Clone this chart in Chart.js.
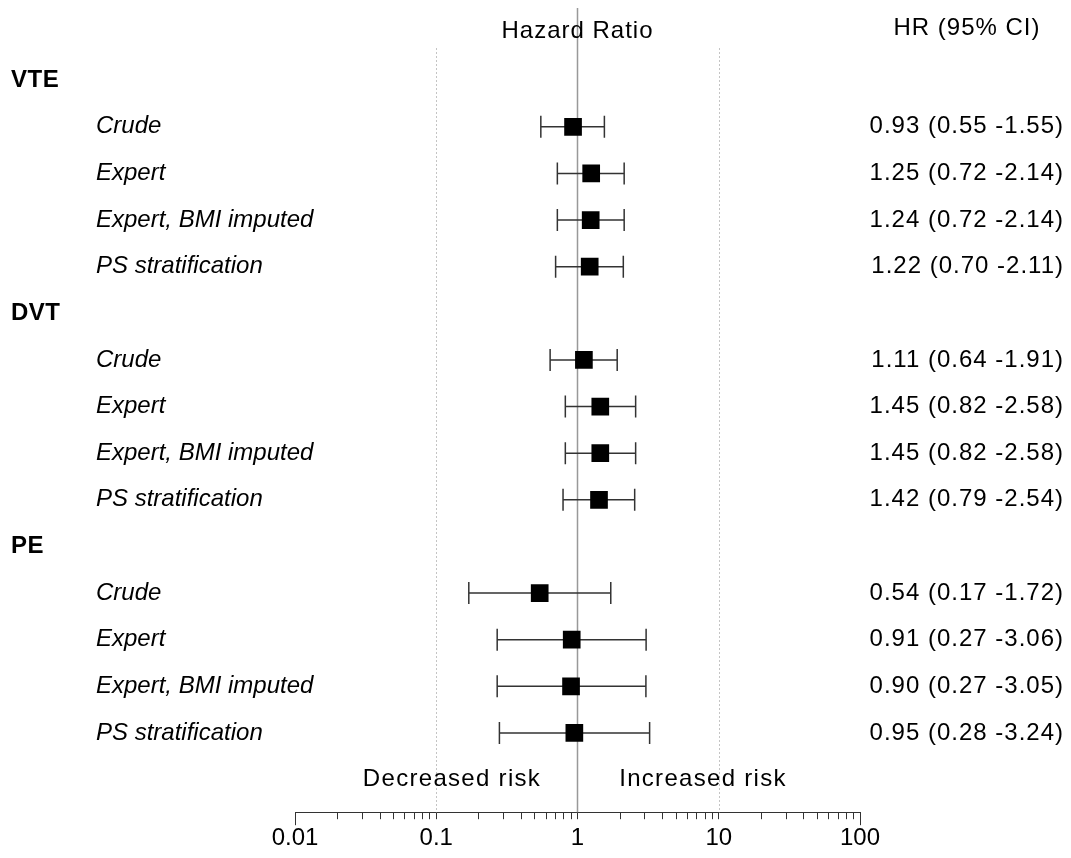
<!DOCTYPE html>
<html>
<head>
<meta charset="utf-8">
<script src="https://cdn.jsdelivr.net/npm/chart.js@4"></script>
<style>
  body { margin: 0; background: #fff; }
  #wrap { width: 1071px; height: 858px; }
</style>
</head>
<body>
<div id="wrap"><canvas id="forest" width="1071" height="858"></canvas></div>
<script>
var groups = ['VTE', 'DVT', 'PE'];
var models = ['Crude', 'Expert', 'Expert, BMI imputed', 'PS stratification'];
var hr = [0.93, 1.25, 1.24, 1.22, 1.11, 1.45, 1.45, 1.42, 0.54, 0.91, 0.90, 0.95];
var lo = [0.55, 0.72, 0.72, 0.70, 0.64, 0.82, 0.82, 0.79, 0.17, 0.27, 0.27, 0.28];
var hi = [1.55, 2.14, 2.14, 2.11, 1.91, 2.58, 2.58, 2.54, 1.72, 3.06, 3.05, 3.24];
var decadeTicks = [0.01, 0.1, 1, 10, 100];
var decadeLabels = ['0.01', '0.1', '1', '10', '100'];

var FONT = '"Liberation Sans", Arial, sans-serif';

// row index for each estimate: group header, then the 4 models
function rowOf(i) {
  var g = Math.floor(i / models.length);
  return g * (models.length + 1) + 1 + (i % models.length);
}

var points = hr.map(function (v, i) { return { x: v, y: rowOf(i) }; });

// minor ticks 2..9 per decade
var allTicks = [];
decadeTicks.forEach(function (d, k) {
  allTicks.push(d);
  if (k < decadeTicks.length - 1) {
    for (var m = 2; m <= 9; m++) allTicks.push(+(d * m).toPrecision(3));
  }
});

var forestPlugin = {
  id: 'forest',
  beforeDatasetsDraw: function (chart) {
    var ctx = chart.ctx, x = chart.scales.x, y = chart.scales.y;
    var bottom = chart.chartArea.bottom;
    ctx.save();
    // dotted lines at 0.1 and 10
    ctx.strokeStyle = '#c4c4c4';
    ctx.lineWidth = 1;
    ctx.setLineDash([2, 2]);
    [0.1, 10].forEach(function (v) {
      var px = Math.round(x.getPixelForValue(v)) + 0.5;
      ctx.beginPath(); ctx.moveTo(px, 48); ctx.lineTo(px, bottom); ctx.stroke();
    });
    ctx.setLineDash([]);
    // line of no effect
    ctx.strokeStyle = '#999';
    ctx.lineWidth = 1.5;
    var p1 = x.getPixelForValue(1);
    ctx.beginPath(); ctx.moveTo(p1, 8); ctx.lineTo(p1, bottom); ctx.stroke();
    // taller end ticks
    ctx.strokeStyle = '#333';
    ctx.lineWidth = 1;
    [0.01, 100].forEach(function (v) {
      var px = Math.round(x.getPixelForValue(v)) + 0.5;
      ctx.beginPath(); ctx.moveTo(px, bottom); ctx.lineTo(px, bottom + 13); ctx.stroke();
    });
    // confidence intervals
    ctx.strokeStyle = '#333';
    ctx.lineWidth = 1.5;
    hr.forEach(function (v, i) {
      var py = y.getPixelForValue(rowOf(i));
      var a = x.getPixelForValue(lo[i]), b = x.getPixelForValue(hi[i]);
      ctx.beginPath();
      ctx.moveTo(a, py); ctx.lineTo(b, py);
      ctx.moveTo(a, py - 11); ctx.lineTo(a, py + 11);
      ctx.moveTo(b, py - 11); ctx.lineTo(b, py + 11);
      ctx.stroke();
    });
    ctx.restore();
  },
  afterDraw: function (chart) {
    var ctx = chart.ctx, x = chart.scales.x, y = chart.scales.y;
    ctx.save();
    ctx.fillStyle = '#000';
    ctx.textBaseline = 'middle';
    ctx.textAlign = 'center';
    ctx.letterSpacing = '1px';
    ctx.font = '24px ' + FONT;
    ctx.fillText('Hazard Ratio', x.getPixelForValue(1), 31);
    ctx.fillText('HR (95% CI)', 967, 28);
    ctx.letterSpacing = '1.3px';
    ctx.fillText('Decreased risk', 452, y.getPixelForValue(15));
    ctx.fillText('Increased risk', 703, y.getPixelForValue(15));

    ctx.textAlign = 'left';
    ctx.letterSpacing = '0.5px';
    groups.forEach(function (g, k) {
      ctx.font = 'bold 24px ' + FONT;
      ctx.fillText(g, 11, y.getPixelForValue(k * (models.length + 1)));
    });
    hr.forEach(function (v, i) {
      var py = y.getPixelForValue(rowOf(i));
      ctx.letterSpacing = '0px';
      ctx.font = 'italic 24px ' + FONT;
      ctx.fillText(models[i % models.length], 96, py);
      ctx.letterSpacing = '1px';
      ctx.font = '24px ' + FONT;
      ctx.textAlign = 'right';
      ctx.fillText(v.toFixed(2) + ' (' + lo[i].toFixed(2) + ' -' + hi[i].toFixed(2) + ')', 1064, py);
      ctx.textAlign = 'left';
    });
    ctx.restore();
  }
};

new Chart(document.getElementById('forest'), {
  type: 'scatter',
  data: {
    datasets: [{
      data: points,
      pointStyle: 'rect',
      pointRadius: 12.5,
      pointHoverRadius: 12.5,
      backgroundColor: '#000',
      borderColor: '#000',
      borderWidth: 0
    }]
  },
  options: {
    responsive: false,
    animation: false,
    events: [],
    layout: { padding: { left: 295, right: 211, top: 48, bottom: 0 } },
    plugins: { legend: { display: false }, tooltip: { enabled: false } },
    scales: {
      x: {
        type: 'logarithmic',
        min: 0.01,
        max: 100,
        afterBuildTicks: function (axis) {
          axis.ticks = allTicks.map(function (v) { return { value: v }; });
        },
        ticks: {
          autoSkip: false,
          maxRotation: 0,
          padding: 5,
          color: '#000',
          font: { family: FONT, size: 24 },
          callback: function (v) {
            var k = decadeTicks.indexOf(v);
            return k >= 0 ? decadeLabels[k] : '';
          }
        },
        grid: { drawOnChartArea: false, drawTicks: true, tickLength: 7, tickColor: '#333', tickWidth: 1 },
        border: { display: true, color: '#333', width: 1 }
      },
      y: {
        type: 'linear',
        reverse: true,
        min: -0.69,
        max: 15.7,
        display: false
      }
    }
  },
  plugins: [forestPlugin]
});
</script>
</body>
</html>
